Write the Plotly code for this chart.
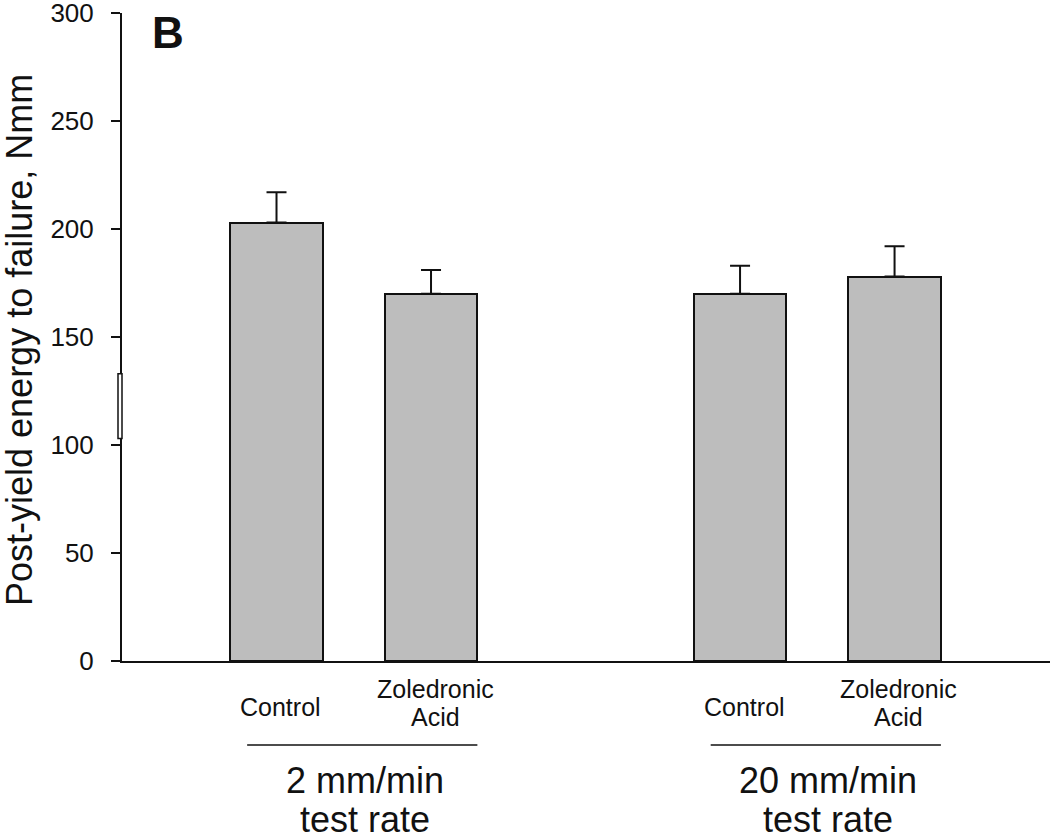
import plotly.graph_objects as go

# ---- data ----
groups = ["2 mm/min<br>test rate", "20 mm/min<br>test rate"]
treatments = ["Control", "Zoledronic<br>Acid"]
means = [203, 170, 170, 178]
sem = [14, 11, 13, 14]
y_ticks = [0, 50, 100, 150, 200, 250, 300]
y_title = "Post-yield energy to failure, Nmm"

FONT = "Liberation Sans, Arial, sans-serif"
GAP = 3  # spacing between group starts (in category units)

x_pos = []
bar_labels = []
for gi, g in enumerate(groups):
    for ti, t in enumerate(treatments):
        x_pos.append(gi * GAP + ti)
        bar_labels.append(t)

fig = go.Figure()
fig.add_trace(go.Bar(
    x=x_pos, y=means, width=0.6,
    marker=dict(color="#bdbdbd", line=dict(color="#111111", width=2)),
    error_y=dict(type="data", symmetric=False, array=sem, arrayminus=[0] * len(sem),
                 color="#111111", thickness=2, width=10),
    showlegend=False,
))

annotations = []
shapes = []

PLOT_TOP, PLOT_BOTTOM, PLOT_LEFT, PLOT_RIGHT = 13, 661, 122, 1050  # page pixels


def py(pix):
    return (PLOT_BOTTOM - pix) / float(PLOT_BOTTOM - PLOT_TOP)


def px(pix):
    return (pix - PLOT_LEFT) / float(PLOT_RIGHT - PLOT_LEFT)


# bar labels
for x, lab in zip(x_pos, bar_labels):
    lines = lab.split("<br>")
    ys = [707] if len(lines) == 1 else [689, 717]
    for line, yp in zip(lines, ys):
        annotations.append(dict(x=x, y=py(yp), xref="x", yref="paper", text=line,
                                showarrow=False, xanchor="center", yanchor="middle",
                                xshift=4, font=dict(family=FONT, size=25, color="#111111")))

# group labels and underline
for gi, g in enumerate(groups):
    start = gi * GAP
    end = gi * GAP + len(treatments) - 1
    center = (start + end) / 2
    shapes.append(dict(type="line", xref="x", yref="paper", x0=start - 0.19, x1=end + 0.3,
                       y0=py(745), y1=py(745), line=dict(color="#111111", width=1.5)))
    for line, yp in zip(g.split("<br>"), [780, 819]):
        annotations.append(dict(x=center, y=py(yp), xref="x", yref="paper", text=line,
                                showarrow=False, xanchor="center", yanchor="middle",
                                xshift=11, font=dict(family=FONT, size=36, color="#111111")))

# y-axis title
annotations.append(dict(x=px(19), y=py(340), xref="paper", yref="paper", text=y_title,
                        textangle=-90, showarrow=False, xanchor="center", yanchor="middle",
                        font=dict(family=FONT, size=36, color="#111111")))

# panel letter
annotations.append(dict(x=px(168), y=py(32), xref="paper", yref="paper", text="<b>B</b>",
                        showarrow=False, xanchor="center", yanchor="middle",
                        font=dict(family=FONT, size=44, color="#111111")))

# small artifact box near the y axis
shapes.append(dict(type="rect", xref="paper", yref="y", x0=px(118), x1=0,
                   y0=103, y1=133, line=dict(color="#111111", width=1.5), fillcolor="white"))

fig.update_layout(
    width=1050, height=832,
    margin=dict(l=122, r=0, t=13, b=171, autoexpand=False),
    paper_bgcolor="white", plot_bgcolor="white",
    bargap=0,
    xaxis=dict(range=[-1, 5.006], showgrid=False, zeroline=False, showticklabels=False,
               ticks="", showline=True, linecolor="#111111", linewidth=2, automargin=False),
    yaxis=dict(range=[0, 300], tickvals=y_ticks, ticks="outside", ticklen=9, tickwidth=2,
               tickcolor="#111111", showgrid=False, zeroline=False, showline=True,
               linecolor="#111111", linewidth=2, ticklabelstandoff=12, automargin=False,
               ticklabeloverflow="allow",
               tickfont=dict(family=FONT, size=26, color="#111111")),
    annotations=annotations,
    shapes=shapes,
)

# remove the browser's default 8px body margin so the figure fills the window exactly
fig.write_html("out.html", config={"displayModeBar": False},
               post_script="document.body.style.margin='0';")
